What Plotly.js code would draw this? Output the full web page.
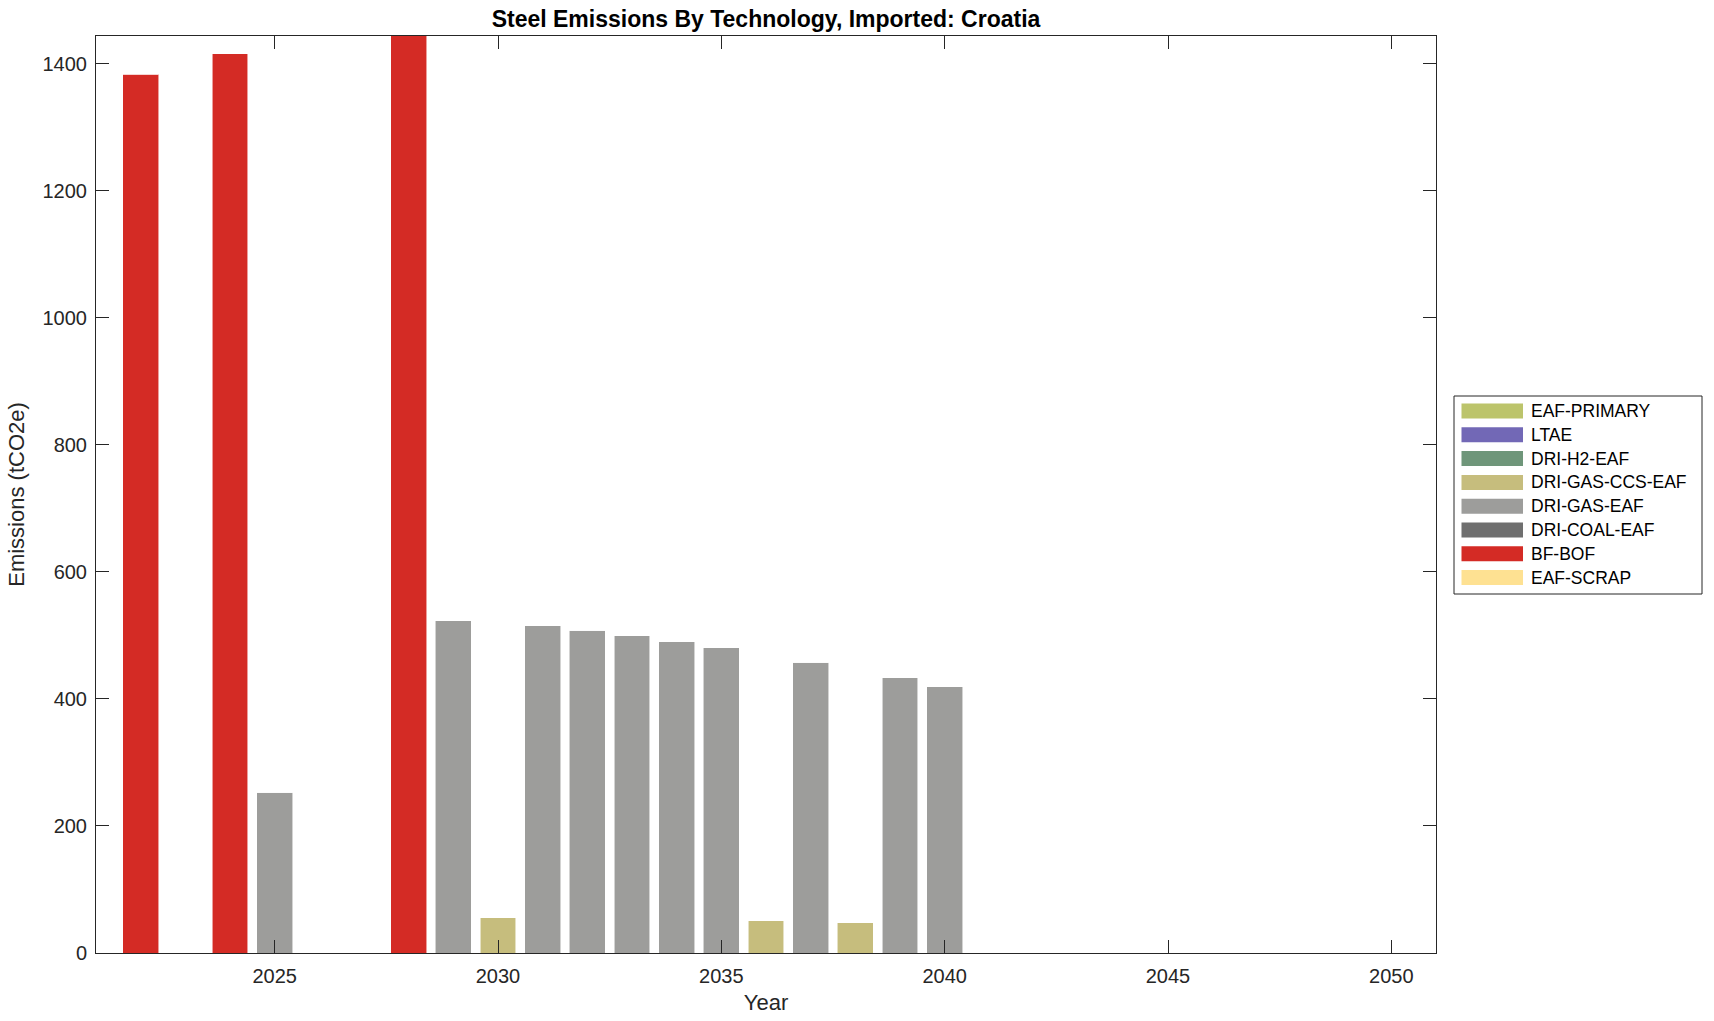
<!DOCTYPE html>
<html>
<head>
<meta charset="utf-8">
<script src="https://cdn.plot.ly/plotly-3.0.1.min.js"></script>
<style>html,body{margin:0;padding:0;background:#fff;}#chart{width:1714px;height:1021px;}</style>
</head>
<body>
<div id="chart"></div>
<script>
// ---- data ----
const years = [2022,2023,2024,2025,2026,2027,2028,2029,2030,2031,2032,2033,2034,2035,2036,2037,2038,2039,2040,2041,2042,2043,2044,2045,2046,2047,2048,2049,2050];
const technologies = ["EAF-PRIMARY","LTAE","DRI-H2-EAF","DRI-GAS-CCS-EAF","DRI-GAS-EAF","DRI-COAL-EAF","BF-BOF","EAF-SCRAP"];
const eafPrimary   = [0,0,0,0,0,0,0,0,0,0,0,0,0,0,0,0,0,0,0,0,0,0,0,0,0,0,0,0,0];
const ltae         = [0,0,0,0,0,0,0,0,0,0,0,0,0,0,0,0,0,0,0,0,0,0,0,0,0,0,0,0,0];
const driH2Eaf     = [0,0,0,0,0,0,0,0,0,0,0,0,0,0,0,0,0,0,0,0,0,0,0,0,0,0,0,0,0];
const driGasCcsEaf = [0,0,0,0,0,0,0,0,55.6,0,0,0,0,0,50.9,0,47.8,0,0,0,0,0,0,0,0,0,0,0,0];
const driGasEaf    = [0,0,0,253.5,0,0,0,523.4,0,515.5,508.1,499.7,490.3,480.3,0,457.7,0,433.1,419.4,0,0,0,0,0,0,0,0,0,0];
const driCoalEaf   = [0,0,0,0,0,0,0,0,0,0,0,0,0,0,0,0,0,0,0,0,0,0,0,0,0,0,0,0,0];
const bfBof        = [1383.8,0,1415.7,0,0,0,1460,0,0,0,0,0,0,0,0,0,0,0,0,0,0,0,0,0,0,0,0,0,0];
const eafScrap     = [0,0,0,0,0,0,0,0,0,0,0,0,0,0,0,0,0,0,0,0,0,0,0,0,0,0,0,0,0];
const xTickVals = [2025,2030,2035,2040,2045,2050];
const yTickVals = [0,200,400,600,800,1000,1200,1400];

// ---- styles ----
const seriesValues = [eafPrimary, ltae, driH2Eaf, driGasCcsEaf, driGasEaf, driCoalEaf, bfBof, eafScrap];
const colors = ["#bcc46b","#7268b6","#6f967a","#c6bd7d","#9d9d9b","#6f6f6f","#d42b25","#fee192"];

const traces = technologies.map((name, i) => ({
  type: "bar",
  name: name,
  x: years,
  y: seriesValues[i],
  marker: {color: colors[i], line: {color: "rgba(255,255,255,0.55)", width: 1}},
  showlegend: false,
  hoverinfo: "x+y+name"
}));

// plot area geometry (px)
const L = 96, R = 1436, T = 36, B = 953;
const W = R - L, H = B - T;
const px = v => (v - L) / W;
const py = v => (B - v) / H;

const shapes = [];
const annotations = [];
// legend box
shapes.push({type:"rect", xref:"paper", yref:"paper", x0:px(1454), x1:px(1702), y0:py(594), y1:py(396),
  line:{color:"#262626", width:1}, fillcolor:"#ffffff", layer:"above"});
technologies.forEach((name, i) => {
  const cy = 411 + i * 23.8;
  shapes.push({type:"rect", xref:"paper", yref:"paper", x0:px(1461.5), x1:px(1523), y0:py(cy + 7.5), y1:py(cy - 7.5),
    line:{width:0}, fillcolor:colors[i], layer:"above"});
  annotations.push({xref:"paper", yref:"paper", x:px(1529), y:py(cy), xanchor:"left", yanchor:"middle",
    text:name, showarrow:false, font:{family:"Liberation Sans, Arial, sans-serif", size:17.5, color:"#000"}});
});

const layout = {
  width: 1714, height: 1021,
  margin: {l: L, r: 1714 - R, t: T, b: 1021 - B, pad: 0},
  paper_bgcolor: "#ffffff", plot_bgcolor: "#ffffff",
  barmode: "stack", bargap: 0.2,
  showlegend: false,
  font: {family: "Liberation Sans, Arial, sans-serif", color: "#262626"},
  title: {text: "<b>Steel Emissions By Technology, Imported: Croatia</b>", x: 0.5 * (L + R) / 1714, xanchor: "center",
    y: 1 - 19 / 1021, yanchor: "middle", yref: "container",
    font: {family: "Liberation Sans, Arial, sans-serif", size: 23, color: "#000"}},
  xaxis: {
    range: [2021, 2051], tickvals: xTickVals, ticktext: xTickVals.map(String),
    ticks: "inside", ticklen: 13, tickwidth: 1, tickcolor: "#262626",
    showline: true, linecolor: "#262626", linewidth: 1, mirror: "ticks",
    showgrid: false, zeroline: false,
    tickfont: {size: 20, color: "#262626"}, ticklabelstandoff: 5,
    title: {text: "Year", font: {size: 22, color: "#262626"}, standoff: 8},
    automargin: false
  },
  yaxis: {
    range: [0, 1444], tickvals: yTickVals, ticktext: yTickVals.map(String),
    ticks: "inside", ticklen: 13, tickwidth: 1, tickcolor: "#262626",
    showline: true, linecolor: "#262626", linewidth: 1, mirror: "ticks",
    showgrid: false, zeroline: false,
    tickfont: {size: 20, color: "#262626"}, ticklabelstandoff: 4,
    title: {text: "Emissions (tCO2e)", font: {size: 22, color: "#262626"}, standoff: 11},
    automargin: false
  },
  shapes: shapes,
  annotations: annotations
};

Plotly.newPlot("chart", traces, layout, {displayModeBar: false, staticPlot: false});
</script>
</body>
</html>
